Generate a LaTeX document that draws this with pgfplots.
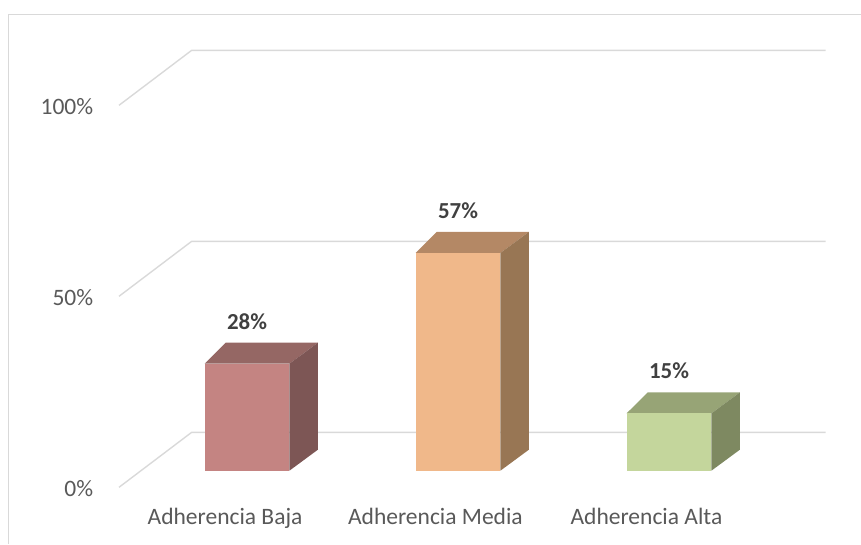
\documentclass[border=0pt]{standalone}
\usepackage{fontspec}
\setmainfont{Carlito}
\usepackage{pgfplots}
\pgfplotsset{compat=1.18}
\definecolor{gridc}{HTML}{D9D9D9}
\definecolor{txt}{HTML}{595959}
\definecolor{lbl}{HTML}{404040}
\definecolor{fA}{HTML}{C48482}
\definecolor{tA}{HTML}{956764}
\definecolor{sA}{HTML}{7D5655}
\definecolor{fB}{HTML}{F0B88A}
\definecolor{tB}{HTML}{B48865}
\definecolor{sB}{HTML}{987654}
\definecolor{fC}{HTML}{C4D69C}
\definecolor{tC}{HTML}{97A476}
\definecolor{sC}{HTML}{7E8961}
\tikzset{lab/.style={text=txt, font=\fontsize{23.6}{28}\selectfont},
         val/.style={anchor=base, text=lbl, font=\fontsize{23}{28}\selectfont\bfseries}}
\begin{document}
\begin{tikzpicture}
\begin{axis}[name=ax,
  scale only axis, x=211bp, y=3.82bp,
  xmin=-1.1706, xmax=2.9100, ymin=-19.19, ymax=123.22,
  hide axis, clip=false,
]
% chart border
\addplot[gridc, line width=1pt] coordinates {(-1.128,-19.19) (-1.128,119.4) (2.91,119.4)};
% gridlines (floor-to-wall)
\addplot[gridc, line width=1.4pt] coordinates {(-0.6066,-4.35) (-0.2621,10.05) (2.7417,10.05)};
\addplot[gridc, line width=1.4pt] coordinates {(-0.6066,45.65) (-0.2621,60.05) (2.7417,60.05)};
\addplot[gridc, line width=1.4pt] coordinates {(-0.6066,95.65) (-0.2621,110.05) (2.7417,110.05)};
% bar 1: 28
\addplot[fill=tA, draw=none] coordinates {(-0.201,28) (0.201,28) (0.336,33.5) (-0.101,33.5)} -- cycle;
\addplot[fill=sA, draw=none] coordinates {(0.201,0) (0.336,5.5) (0.336,33.5) (0.201,28)} -- cycle;
\addplot[ybar, bar width=84.8bp, bar shift=0pt, fill=fA, draw=none] coordinates {(0,28)};
% bar 2: 57
\addplot[fill=tB, draw=none] coordinates {(0.799,57) (1.201,57) (1.336,62.5) (0.899,62.5)} -- cycle;
\addplot[fill=sB, draw=none] coordinates {(1.201,0) (1.336,5.5) (1.336,62.5) (1.201,57)} -- cycle;
\addplot[ybar, bar width=84.8bp, bar shift=0pt, fill=fB, draw=none] coordinates {(1,57)};
% bar 3: 15
\addplot[fill=tC, draw=none] coordinates {(1.799,15) (2.201,15) (2.336,20.5) (1.899,20.5)} -- cycle;
\addplot[fill=sC, draw=none] coordinates {(2.201,0) (2.336,5.5) (2.336,20.5) (2.201,15)} -- cycle;
\addplot[ybar, bar width=84.8bp, bar shift=0pt, fill=fC, draw=none] coordinates {(2,15)};
% value labels
\node[val] at (axis cs:0,36.9) {28\%};
\node[val] at (axis cs:1,65.9) {57\%};
\node[val] at (axis cs:2,24.1) {15\%};
% axis labels
\node[lab, anchor=base east] at (axis cs:-0.7123,93.3) {100\%};
\node[lab, anchor=base east] at (axis cs:-0.7123,43.3) {50\%};
\node[lab, anchor=base east] at (axis cs:-0.7123,-6.7) {0\%};
\node[lab, anchor=base] at (axis cs:-0.104,-14.2) {Adherencia Baja};
\node[lab, anchor=base] at (axis cs:0.893,-14.2) {Adherencia Media};
\node[lab, anchor=base] at (axis cs:1.893,-14.2) {Adherencia Alta};
\end{axis}
\pgfresetboundingbox
\useasboundingbox (ax.south west) rectangle (ax.north east);
\end{tikzpicture}
\end{document}
